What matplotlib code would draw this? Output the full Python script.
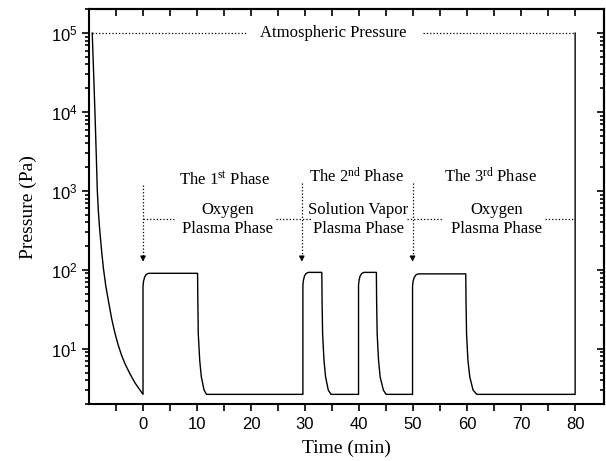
import numpy as np
import matplotlib
matplotlib.use("Agg")
import matplotlib.pyplot as plt
from matplotlib.ticker import FixedLocator, FuncFormatter, LogLocator, NullFormatter

# pressure trace (time in min, pressure in Pa)
time_min = [
    -9.4, -9.15, -8.9, -8.65, -8.46, -8.27, -8.1, -7.96, -7.65, -7.35, -6.9,
    -6.42, -5.8, -5.19, -4.6, -4.0, -3.33, -2.4, -1.48, -0.7, 0.0,
    # 1st phase, oxygen plasma
    0.0, 0.1, 0.3, 0.55, 0.9, 1.2, 10.1, 10.15, 10.23, 10.5, 10.8, 11.3, 11.75,
    # 2nd phase, two solution vapor pulses
    29.6, 29.6, 29.7, 29.9, 30.2, 30.6, 33.1, 33.15, 33.25, 33.5, 33.8, 34.3, 34.8,
    39.9, 39.9, 40.0, 40.2, 40.5, 40.9, 43.2, 43.25, 43.35, 43.6, 43.9, 44.5, 45.0,
    # 3rd phase, oxygen plasma
    49.9, 49.9, 50.0, 50.2, 50.5, 50.8, 51.1, 59.75, 59.8, 59.9, 60.15, 60.5, 61.1, 61.8,
    # venting
    80.0, 80.0,
]
pressure_pa = [
    1e5, 3.2e4, 1e4, 2800, 1000, 560, 380, 290, 170, 107, 63,
    41, 24, 15.7, 11.2, 8.4, 6.45, 4.8, 3.7, 3.1, 2.65,
    62, 72, 81, 87, 90, 90.5, 90.5, 40, 15.5, 7.1, 4.4, 3.0, 2.65,
    2.65, 64, 74, 84, 90, 93, 93, 40, 15.5, 7.2, 4.4, 3.0, 2.65,
    2.65, 64, 74, 84, 90, 93, 93, 40, 15.5, 7.2, 4.4, 3.0, 2.65,
    2.65, 62, 72, 80, 86, 88.5, 89, 89, 40, 15.5, 7.2, 4.4, 3.0, 2.65,
    2.65, 1e5,
]

x_major = [0, 10, 20, 30, 40, 50, 60, 70, 80]
x_minor = [-5, 5, 15, 25, 35, 45, 55, 65, 75]

atm_pa = 1e5
atm_segments = [(-9.4, 19.2), (51.9, 80)]
bracket_pa = 435
bracket_segments = [(0, 5.7), (24.7, 31.2), (48.8, 55.3), (74.4, 80)]
arrow_x = [0, 29.4, 49.9]
arrow_top = [1175, 1250, 1250]
arrow_tip = 127

phase_titles = [r"The 1$\mathregular{^{st}}$ Phase",
                r"The 2$\mathregular{^{nd}}$ Phase",
                r"The 3$\mathregular{^{rd}}$ Phase"]
phase_title_x = [15.0, 39.6, 64.3]
phase_title_y = [1390, 1500, 1500]
phase_names = ["Oxygen\nPlasma Phase", "Solution Vapor\nPlasma Phase", "Oxygen\nPlasma Phase"]
phase_name_x = [15.7, 39.9, 65.4]

plt.rcParams['font.family'] = ['Liberation Sans', 'DejaVu Sans']
serif = ['Liberation Serif', 'DejaVu Serif']

fig = plt.figure(figsize=(6.06, 4.61), dpi=100)
ax = fig.add_axes([89 / 606, 1 - 404 / 461, (604.3 - 89) / 606, (404 - 9.3) / 461])

ax.plot(time_min, pressure_pa, color='black', lw=1.0)

# atmospheric pressure reference
for a, b in atm_segments:
    ax.plot([a, b], [atm_pa, atm_pa], color='black', lw=0.9, ls=':')
ax.text(35.3, atm_pa, "Atmospheric Pressure", ha='center', va='center',
        fontsize=12, family=serif)

# phase brackets
for a, b in bracket_segments:
    ax.plot([a, b], [bracket_pa, bracket_pa], color='black', lw=0.9, ls=':')
for xa, top in zip(arrow_x, arrow_top):
    ax.plot([xa, xa], [top, arrow_tip * 1.12], color='black', lw=0.9, ls=':')
    ax.annotate('', xy=(xa, arrow_tip), xytext=(xa, arrow_tip * 1.13),
                arrowprops=dict(arrowstyle='-|>', color='black', lw=0.8,
                                mutation_scale=8, shrinkA=0, shrinkB=0))

for title, tx, ty in zip(phase_titles, phase_title_x, phase_title_y):
    ax.text(tx, ty, title, ha='center', va='center', fontsize=12, family=serif)
for name, nx in zip(phase_names, phase_name_x):
    ax.text(nx, bracket_pa, name, ha='center', va='center', fontsize=12,
            family=serif, linespacing=1.25)

ax.set_xlim(-10, 85.4)
ax.set_yscale('log')
ax.set_ylim(2, 2e5)

ax.xaxis.set_major_locator(FixedLocator(x_major))
ax.xaxis.set_minor_locator(FixedLocator(x_minor))
ax.yaxis.set_major_locator(LogLocator(base=10, numticks=10))
ax.yaxis.set_minor_locator(LogLocator(base=10, subs=np.arange(2, 10), numticks=10))
ax.yaxis.set_major_formatter(FuncFormatter(
    lambda v, p: r'$\mathregular{10^{%d}}$' % round(np.log10(v))))
ax.yaxis.set_minor_formatter(NullFormatter())

ax.tick_params(which='both', direction='out', width=1.2, labelsize=12)
ax.tick_params(axis='x', which='major', length=5, pad=4)
ax.tick_params(axis='x', which='minor', length=5)
ax.tick_params(axis='y', which='major', length=5, pad=3)
ax.tick_params(axis='y', which='minor', length=3)

top = ax.secondary_xaxis('top')
top.xaxis.set_major_locator(FixedLocator(x_major))
top.xaxis.set_minor_locator(FixedLocator(x_minor))
top.tick_params(which='both', direction='in', length=5, width=1.2, labeltop=False)

right = ax.secondary_yaxis('right')
right.yaxis.set_major_locator(LogLocator(base=10, numticks=10))
right.yaxis.set_minor_locator(LogLocator(base=10, subs=np.arange(2, 10), numticks=10))
right.tick_params(which='major', direction='in', length=5, width=1.2, labelright=False)
right.tick_params(which='minor', direction='in', length=3, width=1.2, labelright=False)

for s in list(ax.spines.values()) + list(top.spines.values()) + list(right.spines.values()):
    s.set_linewidth(1.5)

ax.set_xlabel("Time (min)", fontsize=14, family=serif, labelpad=6)
ax.set_ylabel("Pressure (Pa)", fontsize=14, family=serif, labelpad=10)

fig.savefig("out.png", dpi=100)
